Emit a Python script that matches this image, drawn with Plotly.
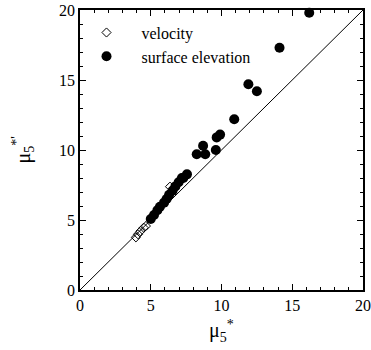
import plotly.graph_objects as go

# velocity (open diamonds)
vel_x = [3.95, 4.1, 4.27, 4.5, 4.66, 6.36, 7.1]
vel_y = [3.76, 3.98, 4.2, 4.45, 4.57, 7.38, 7.8]

# surface elevation (filled circles)
surf_x = [16.2, 14.1, 11.9, 12.5, 10.9, 9.9, 9.66, 9.6, 8.7, 8.25, 8.85, 7.56, 7.2,
          5.0, 5.23, 5.47, 5.65, 5.94, 6.12, 6.3, 6.55, 6.74, 6.97, 7.3]
surf_y = [19.8, 17.3, 14.7, 14.2, 12.2, 11.1, 10.9, 10.0, 10.3, 9.7, 9.7, 8.26, 8.0,
          5.07, 5.36, 5.7, 5.95, 6.24, 6.5, 6.8, 7.1, 7.4, 7.7, 8.0]

line_x = [0, 20]
line_y = [0, 20]

font = "Times New Roman, DejaVu Serif, serif"

fig = go.Figure()
fig.add_trace(go.Scatter(x=line_x, y=line_y, mode="lines",
                         line=dict(color="black", width=1), showlegend=False))
fig.add_trace(go.Scatter(x=surf_x, y=surf_y, mode="markers", name="surface elevation",
                         marker=dict(symbol="circle", size=10, color="black"),
                         showlegend=False, cliponaxis=False))
fig.add_trace(go.Scatter(x=vel_x, y=vel_y, mode="markers", name="velocity",
                         marker=dict(symbol="diamond-open", size=7, color="black",
                                     line=dict(width=1)), cliponaxis=False))
fig.add_trace(go.Scatter(x=[None], y=[None], mode="markers", name="surface elevation",
                         marker=dict(symbol="circle", size=10, color="black")))

axis = dict(range=[0, 20], dtick=5, ticks="inside", ticklen=6, tickwidth=1,
            tickcolor="black", showline=True, linecolor="black", linewidth=1.5,
            mirror="allticks", showgrid=False, zeroline=False, automargin=False,
            tickfont=dict(family=font, size=16, color="black"),
            minor=dict(dtick=1, ticks="inside", ticklen=3, tickcolor="black", showgrid=False))

fig.update_layout(
    width=371, height=350,
    margin=dict(l=80, r=8, t=10, b=60),
    paper_bgcolor="white", plot_bgcolor="white",
    font=dict(family=font, color="black"),
    xaxis=dict(**axis),
    yaxis=dict(**axis),
    showlegend=True,
    legend=dict(x=-0.03, y=0.98, xanchor="left", yanchor="top",
                bgcolor="rgba(0,0,0,0)", font=dict(family=font, size=16, color="black"),
                itemwidth=60, tracegroupgap=0),
    annotations=[
        dict(text="μ<sub>5</sub><sup>*</sup>", x=0.5, y=-0.09, xref="paper", yref="paper",
             xanchor="center", yanchor="top", showarrow=False,
             font=dict(family=font, size=20, color="black")),
        dict(text="μ<sub>5</sub><sup>*'</sup>", x=-0.2, y=0.5, xref="paper", yref="paper",
             xanchor="center", yanchor="middle", showarrow=False, textangle=-90,
             font=dict(family=font, size=20, color="black")),
    ],
)

fig.write_html("out.html")
